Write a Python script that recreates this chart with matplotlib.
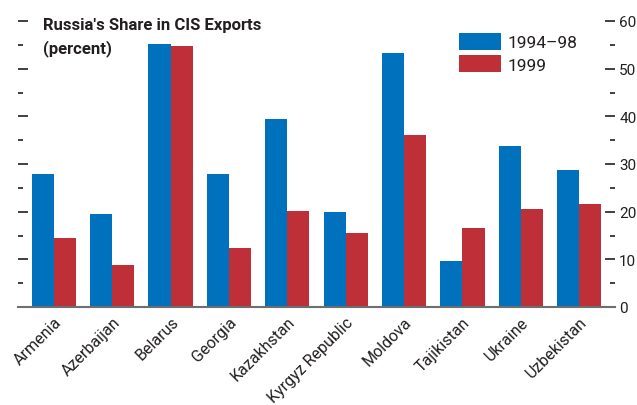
import matplotlib.pyplot as plt
import numpy as np

countries = ['Armenia', 'Azerbaijan', 'Belarus', 'Georgia', 'Kazakhstan',
             'Kyrgyz Republic', 'Moldova', 'Tajikistan', 'Ukraine', 'Uzbekistan']
share_9498 = [27.8, 19.6, 55.2, 28.0, 39.4, 20.0, 53.3, 9.7, 33.7, 28.8]
share_1999 = [14.5, 8.8, 54.7, 12.4, 20.2, 15.6, 36.0, 16.6, 20.6, 21.7]
series_labels = ['1994\u201398', '1999']

plt.rcParams['font.family'] = ['Roboto', 'DejaVu Sans']
txt = '#231f20'
blue = '#0071bc'
red = '#bf2f38'

fig = plt.figure(figsize=(6.37, 4.06), dpi=100)
ax = fig.add_axes([18 / 637, 98 / 406, 597 / 637, 286 / 406])

x = np.arange(len(countries))
w = 0.38
ax.bar(x - w / 2, share_9498, w, color=blue, label=series_labels[0])
ax.bar(x + w / 2, share_1999, w, color=red, label=series_labels[1])

ax.set_xlim(-0.617, 9.617)
ax.set_ylim(0, 60)

for s in ['top', 'left', 'right']:
    ax.spines[s].set_visible(False)
ax.spines['bottom'].set_color('#6d6e71')
ax.spines['bottom'].set_linewidth(1.5)

# y ticks on both sides, labels only on the right
ax.set_yticks(np.arange(0, 61, 10))
ax.set_yticks(np.arange(5, 60, 10), minor=True)
ax.tick_params(axis='y', which='both', left=True, right=True, labelleft=False,
               labelright=True, direction='in', color=txt, width=1.2,
               labelsize=11, labelcolor=txt, pad=3)
ax.tick_params(axis='y', which='major', length=7)
ax.tick_params(axis='y', which='minor', length=3.5)

ax.set_xticks(x)
ax.set_xticklabels(countries, rotation=45, ha='right', rotation_mode='anchor',
                   fontsize=11.5, color=txt)
ax.tick_params(axis='x', length=0, pad=5)

fig.text(43 / 637, 1 - 30 / 406, "Russia's Share in CIS Exports", fontsize=12,
         fontweight='bold', color=txt, va='baseline')
fig.text(43 / 637, 1 - 53 / 406, '(percent)', fontsize=12,
         fontweight='bold', color=txt, va='baseline')

ax.legend(loc='upper left', bbox_to_anchor=(459 / 637, 1 - 34 / 406),
          bbox_transform=fig.transFigure, frameon=False, fontsize=12.5,
          handlelength=2.4, handleheight=1.1, labelspacing=0.3,
          handletextpad=0.4, borderpad=0, borderaxespad=0, labelcolor=txt)

fig.savefig('out.png', dpi=100)
